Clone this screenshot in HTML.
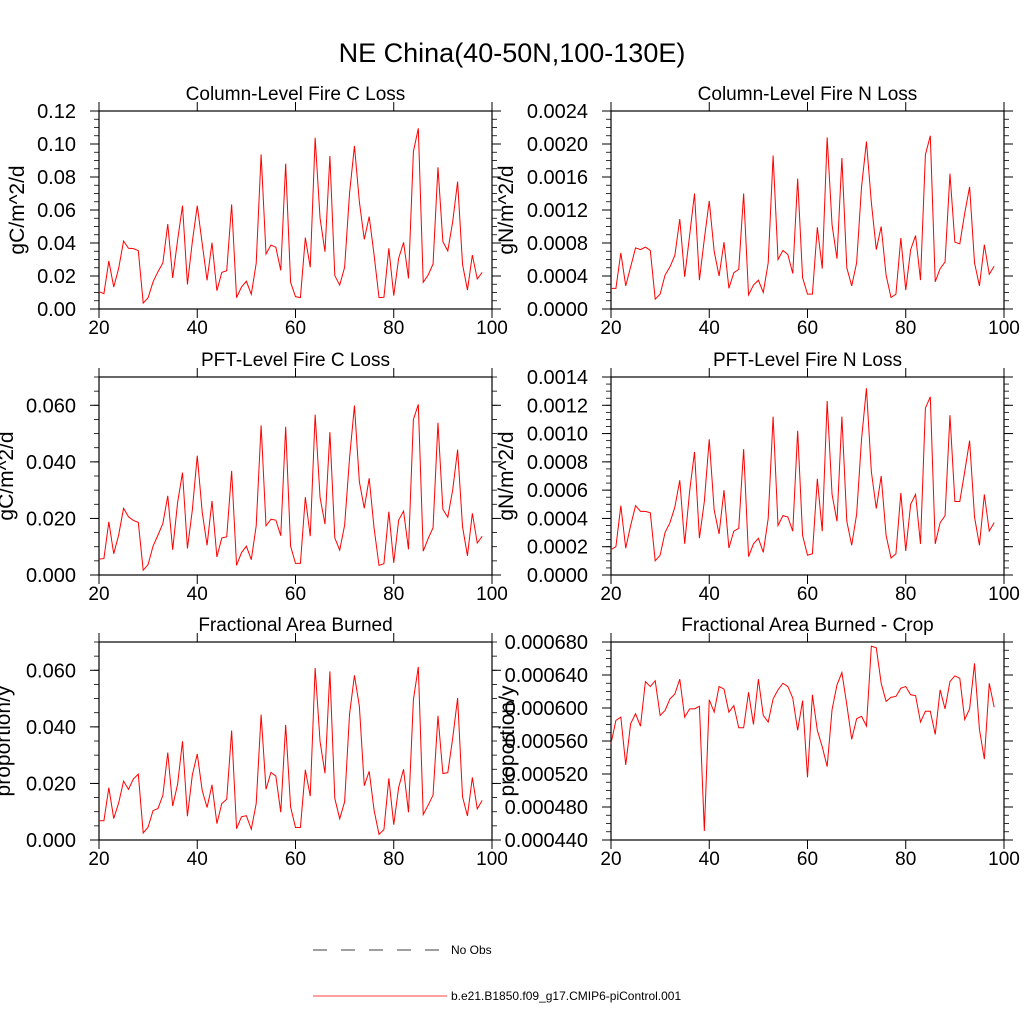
<!DOCTYPE html>
<html><head><meta charset="utf-8"><style>
html,body{margin:0;padding:0;background:#fff;}
svg{display:block;font-family:"Liberation Sans",Arial,sans-serif;}
</style></head><body>
<svg id="fig" width="1024" height="1024" viewBox="0 0 1024 1024">
<text x="512" y="62" font-size="27" text-anchor="middle">NE China(40-50N,100-130E)</text>
<g id="panels"></g>
<g>
<line x1="313" y1="950" x2="445" y2="950" stroke="#000" stroke-width="0.8" stroke-dasharray="14,14"/>
<text x="451" y="954" font-size="12">No Obs</text>
<line x1="313" y1="996" x2="447" y2="996" stroke="#f00" stroke-width="0.8"/>
<text x="451" y="1000" font-size="12">b.e21.B1850.f09_g17.CMIP6-piControl.001</text>
</g>
</svg>
<script>
const years = Array.from({length:79},(_, i)=>20+i);
const xTicks = [20,40,60,80,100];
const colFireC = [.0105,.0093,.0291,.0133,.0246,.0412,.0368,.0366,.0354,.0036,.0069,.0164,.0226,.0279,.0515,.0188,.0418,.0626,.0149,.0408,.0626,.0398,.0174,.0402,.0111,.0222,.0232,.0634,.0069,.0133,.0168,.0089,.0277,.0937,.0333,.0388,.0374,.0234,.0881,.0162,.0075,.0069,.0432,.0253,.1038,.0550,.0347,.0927,.0202,.0145,.0253,.0701,.0988,.0650,.0422,.0560,.0327,.0069,.0071,.0368,.0081,.0307,.0404,.0186,.0954,.1095,.0162,.0206,.0273,.0859,.0408,.0352,.0529,.0772,.0271,.0115,.0327,.0182,.0222];
const colFireN = [.00025,.00025,.00068,.00028,.00051,.00074,.00072,.00075,.00071,.00012,.00018,.00041,.00051,.00065,.00109,.00039,.00089,.00140,.00035,.00085,.00131,.00070,.00040,.00081,.00025,.00044,.00048,.00140,.00017,.00029,.00035,.00020,.00056,.00186,.00060,.00071,.00066,.00043,.00158,.00038,.00018,.00018,.00099,.00049,.00208,.00102,.00061,.00183,.00050,.00028,.00056,.00148,.00203,.00129,.00072,.00100,.00041,.00014,.00018,.00086,.00023,.00072,.00089,.00035,.00187,.00210,.00033,.00049,.00057,.00164,.00081,.00079,.00116,.00148,.00056,.00028,.00078,.00042,.00052];
const pftFireC = [.0056,.0058,.0188,.0075,.0141,.0236,.0206,.0193,.0186,.0017,.0037,.0102,.0141,.0182,.0280,.0089,.0256,.0362,.0094,.0230,.0422,.0224,.0105,.0262,.0064,.0131,.0135,.0368,.0034,.0079,.0102,.0054,.0174,.0529,.0174,.0197,.0194,.0139,.0524,.0102,.0041,.0041,.0275,.0137,.0567,.0274,.0180,.0505,.0131,.0088,.0176,.0413,.0599,.0330,.0236,.0342,.0165,.0034,.0040,.0224,.0043,.0194,.0226,.0091,.0550,.0603,.0084,.0129,.0167,.0538,.0232,.0204,.0301,.0443,.0171,.0068,.0218,.0113,.0137];
const pftFireN = [.00018,.00020,.00049,.00019,.00035,.00049,.00045,.00045,.00044,.00010,.00014,.00030,.00037,.00048,.00067,.00022,.00059,.00087,.00026,.00052,.00096,.00046,.00029,.00060,.00019,.00031,.00033,.00089,.00013,.00022,.00026,.00016,.00040,.00112,.00035,.00042,.00041,.00031,.00102,.00028,.00014,.00015,.00068,.00031,.00123,.00057,.00038,.00112,.00038,.00021,.00043,.00096,.00132,.00073,.00047,.00070,.00028,.00012,.00015,.00058,.00017,.00050,.00057,.00022,.00118,.00126,.00022,.00037,.00042,.00113,.00052,.00052,.00073,.00095,.00041,.00021,.00057,.00031,.00037];
const fracBurned = [.0068,.0068,.0185,.0076,.0131,.0208,.0179,.0216,.0233,.0025,.0046,.0104,.0111,.0158,.0309,.0120,.0197,.0349,.0084,.0230,.0304,.0176,.0115,.0195,.0058,.0129,.0144,.0387,.0040,.0082,.0086,.0038,.0129,.0443,.0179,.0239,.0226,.0098,.0407,.0117,.0044,.0044,.0248,.0155,.0608,.0348,.0236,.0596,.0147,.0075,.0135,.0445,.0582,.0473,.0192,.0243,.0105,.0020,.0037,.0218,.0054,.0186,.0250,.0098,.0496,.0612,.0090,.0123,.0159,.0439,.0235,.0238,.0360,.0502,.0153,.0085,.0221,.0110,.0140];
const fracBurnedCrop = [.000557,.000585,.000589,.000531,.000581,.000593,.000578,.000632,.000626,.000633,.000591,.000597,.000611,.000617,.000635,.000589,.000599,.000599,.000602,.000451,.000610,.000595,.000626,.000623,.000595,.000603,.000576,.000576,.000619,.000580,.000635,.000591,.000583,.000611,.000622,.000630,.000626,.000612,.000573,.000609,.000516,.000616,.000573,.000553,.000529,.000598,.000628,.000643,.000604,.000562,.000587,.000590,.000578,.000675,.000673,.000630,.000608,.000613,.000614,.000624,.000626,.000616,.000615,.000583,.000596,.000596,.000568,.000622,.000599,.000632,.000639,.000636,.000586,.000599,.000654,.000574,.000538,.000630,.000601];
const ticksFireC = [0,0.02,0.04,0.06,0.08,0.10,0.12];
const ticksFireN = [0,0.0004,0.0008,0.0012,0.0016,0.0020,0.0024];
const ticksPftC = [0,0.02,0.04,0.06];
const ticksPftN = [0,0.0002,0.0004,0.0006,0.0008,0.0010,0.0012,0.0014];
const ticksCrop = [0.00044,0.00048,0.00052,0.00056,0.00060,0.00064,0.00068];

const NS="http://www.w3.org/2000/svg";
const root=document.getElementById('panels');
function mk(tag,attrs,parent){const e=document.createElementNS(NS,tag);for(const k in attrs)e.setAttribute(k,attrs[k]);parent.appendChild(e);return e;}

const panels=[
 {name:'column-fire-c-loss',title:'Column-Level Fire C Loss',ylab:'gC/m^2/d',data:colFireC,ticks:ticksFireC,min:0,max:0.12,minor:0.005,dec:2,x0:99,y0:111,ylx:16},
 {name:'column-fire-n-loss',title:'Column-Level Fire N Loss',ylab:'gN/m^2/d',data:colFireN,ticks:ticksFireN,min:0,max:0.0024,minor:0.0001,dec:4,x0:611,y0:111,ylx:505},
 {name:'pft-fire-c-loss',title:'PFT-Level Fire C Loss',ylab:'gC/m^2/d',data:pftFireC,ticks:ticksPftC,min:0,max:0.07,minor:0.005,dec:3,x0:99,y0:377,ylx:5},
 {name:'pft-fire-n-loss',title:'PFT-Level Fire N Loss',ylab:'gN/m^2/d',data:pftFireN,ticks:ticksPftN,min:0,max:0.0014,minor:0.00005,dec:4,x0:611,y0:377,ylx:505},
 {name:'fractional-area-burned',title:'Fractional Area Burned',ylab:'proportion/y',data:fracBurned,ticks:ticksPftC,min:0,max:0.07,minor:0.005,dec:3,x0:99,y0:642,ylx:2},
 {name:'fractional-area-burned-crop',title:'Fractional Area Burned - Crop',ylab:'proportion/y',data:fracBurnedCrop,ticks:ticksCrop,min:0.00044,max:0.00068,minor:0.00001,dec:6,x0:611,y0:642,ylx:506}
];
const W=393,H=198;
panels.forEach(p=>{
 const g=mk('g',{},root);
 
 
 const xs=v=>p.x0+(v-20)/80*W;
 const ys=v=>p.y0+H-(v-p.min)/(p.max-p.min)*H;
 const t=mk('text',{x:p.x0+W/2,y:p.y0-11,'font-size':19,'text-anchor':'middle'},g);
 t.textContent=p.title;
 
 
 const yl=mk('text',{x:p.ylx+8,y:p.y0+H/2,'font-size':21,'text-anchor':'middle',transform:`rotate(-90 ${p.ylx+8} ${p.y0+H/2})`},g);
 yl.textContent=p.ylab;
 
 
 const nMin=Math.round((p.max-p.min)/p.minor);
 for(let i=0;i<=nMin;i++){const v=p.min+i*p.minor;const y=ys(v);
  mk('line',{x1:p.x0-5,y1:y,x2:p.x0,y2:y,stroke:'#000','stroke-width':0.8},g);
  mk('line',{x1:p.x0+W,y1:y,x2:p.x0+W+5,y2:y,stroke:'#000','stroke-width':0.8},g);}
 p.ticks.forEach(v=>{const y=ys(v);
  mk('line',{x1:p.x0-9,y1:y,x2:p.x0,y2:y,stroke:'#000','stroke-width':1},g);
  mk('line',{x1:p.x0+W,y1:y,x2:p.x0+W+9,y2:y,stroke:'#000','stroke-width':1},g);
  const tl=mk('text',{x:p.x0-23,y:y+7,'font-size':20,'text-anchor':'end'},g);
  tl.textContent=v.toFixed(p.dec);
  
  
 });
 xTicks.forEach(v=>{const x=xs(v);
  mk('line',{x1:x,y1:p.y0+H,x2:x,y2:p.y0+H+9,stroke:'#000','stroke-width':1},g);
  mk('line',{x1:x,y1:p.y0-9,x2:x,y2:p.y0,stroke:'#000','stroke-width':1},g);
  const tl=mk('text',{x:x,y:p.y0+H+25,'font-size':19,'text-anchor':'middle'},g);
  tl.textContent=v;
  
  
 });
 const fr=mk('rect',{x:p.x0,y:p.y0,width:W,height:H,fill:'none',stroke:'#000','stroke-width':1.2},g);
 
 
 const pts=p.data.map((v,i)=>xs(years[i]).toFixed(2)+','+ys(v).toFixed(2)).join(' ');
 const ln=mk('polyline',{points:pts,fill:'none',stroke:'#f00','stroke-width':1},g);
 
 
});
</script>
</body></html>
